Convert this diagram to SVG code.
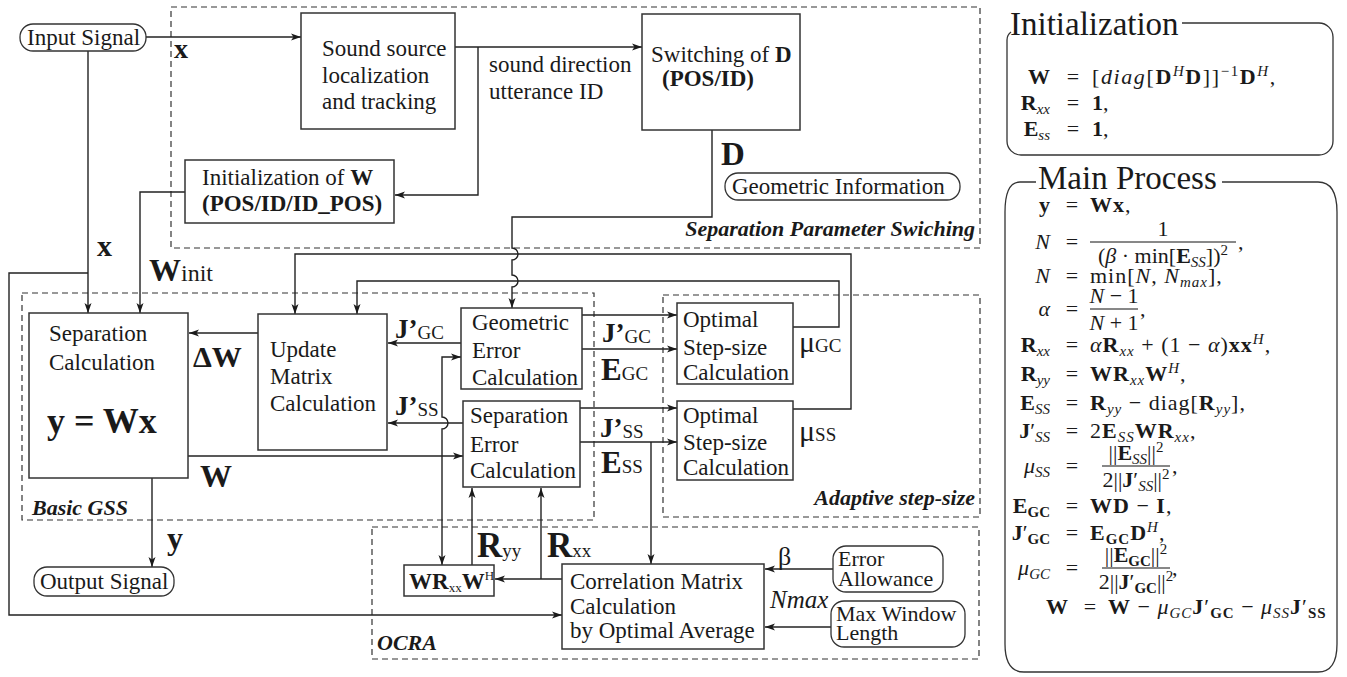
<svg xmlns="http://www.w3.org/2000/svg" width="1347" height="677" viewBox="0 0 1347 677">
<defs>
<style>
text { font-family: "Liberation Serif", "Times New Roman", serif; fill: #1a1a1a; }
.t { font-size: 23px; }
.t2 { font-size: 22px; }
.bx { fill: #fff; stroke: #333; stroke-width: 1.5; }
.pill { fill: #fff; stroke: #333; stroke-width: 1.3; }
.ds { fill: none; stroke: #333; stroke-width: 1.2; stroke-dasharray: 6 4; }
.ln { fill: none; stroke: #222; stroke-width: 1.4; }
.ar { marker-end: url(#ah); }
.lab { font-weight: bold; font-style: italic; font-size: 22px; }
.b { font-weight: bold; }
.i { font-style: italic; }
.eq { font-size: 22px; }
.rs { letter-spacing: 1px; }
.s { font-size: 15px; }
.sub { font-size: 19px; font-weight: normal; }
.panel { fill: none; stroke: #333; stroke-width: 1.3; }
.ttl { font-size: 33px; }
.bar { stroke: #111; stroke-width: 1; }
</style>
<marker id="ah" markerUnits="userSpaceOnUse" markerWidth="11" markerHeight="8" refX="10" refY="4" orient="auto"><path d="M0,0.5 L10,4 L0,7.5 L2.5,4 Z" fill="#1a1a1a"/></marker>
</defs>
<rect width="1347" height="677" fill="#fff"/>

<g id="regions">
<rect class="ds" x="171" y="7" width="809" height="241"/>
<text class="lab" x="975" y="236" text-anchor="end">Separation Parameter Swiching</text>
<rect class="ds" x="22" y="293" width="572" height="227"/>
<text class="lab" x="32" y="515">Basic GSS</text>
<rect class="ds" x="663" y="295" width="317" height="222"/>
<text class="lab" x="975" y="505" text-anchor="end">Adaptive step-size</text>
<rect class="ds" x="372" y="527" width="607" height="132"/>
<text class="lab" x="377" y="650">OCRA</text>
</g>

<g id="connectors" class="ln">
<path class="ar" d="M146,37 H301"/>
<path class="ar" d="M455,47 H642"/>
<path class="ar" d="M478,47 V195 H395"/>
<path class="ar" d="M185,192 H140 V313"/>
<path class="ar" d="M88,51 V313"/>
<path class="ar" d="M88,273 H9 V615 H562"/>
<path class="ar" d="M712,130 V217 H512 V248 a6,6 0 0 1 0,12 V275 a6,6 0 0 1 0,12 V308"/>
<path class="ar" d="M793,409 H851 V254 H295 V314"/>
<path class="ar" d="M793,327 H839 V281 H357 V314"/>
<path class="ar" d="M258,333 H189"/>
<path class="ar" d="M461,343 H388"/>
<path class="ar" d="M463,423 H388"/>
<path class="ar" d="M188,456 H463"/>
<path class="ar" d="M442,456 V429 a6,6 0 0 0 0,-12 V357 H461"/>
<path class="ar" d="M442,456 V565"/>
<path class="ar" d="M582,315 H677"/>
<path class="ar" d="M582,349 H677"/>
<path class="ar" d="M580,408 H677"/>
<path class="ar" d="M580,442 H677"/>
<path class="ar" d="M651,442 V564"/>
<path class="ar" d="M562,579 H495"/>
<path class="ar" d="M541,579 V488"/>
<path class="ar" d="M472,565 V488"/>
<path class="ar" d="M833,569 H765"/>
<path class="ar" d="M831,627 H765"/>
<path class="ar" d="M152,478 V567"/>
</g>

<g id="input-signal">
<rect class="pill" x="20" y="24" width="126" height="27" rx="13"/>
<text class="t" x="27" y="45">Input Signal</text>
</g>
<g id="sound-source">
<rect class="bx" x="301" y="13" width="154" height="116"/>
<text class="t" x="322" y="56">Sound source</text>
<text class="t" x="322" y="83">localization</text>
<text class="t" x="322" y="109">and tracking</text>
</g>
<g id="switching-d">
<rect class="bx" x="642" y="14" width="158" height="116"/>
<text class="t" x="651" y="62">Switching of <tspan class="b">D</tspan></text>
<text class="t b" x="662" y="86">(POS/ID)</text>
</g>
<g id="init-w">
<rect class="bx" x="185" y="160" width="209" height="63"/>
<text class="t" x="202" y="185">Initialization of <tspan class="b">W</tspan></text>
<text class="t b" x="202" y="211">(POS/ID/ID_POS)</text>
</g>
<g id="geo-info">
<rect class="pill" x="725" y="173" width="235" height="27" rx="13"/>
<text class="t" x="732" y="194">Geometric Information</text>
</g>
<g id="sep-calc">
<rect class="bx" x="29" y="313" width="159" height="165"/>
<text class="t" x="49" y="341">Separation</text>
<text class="t" x="49" y="370">Calculation</text>
<text class="b" x="47" y="433" font-size="36">y = Wx</text>
</g>
<g id="update-matrix">
<rect class="bx" x="258" y="314" width="129" height="136"/>
<text class="t" x="270" y="357">Update</text>
<text class="t" x="270" y="384">Matrix</text>
<text class="t" x="270" y="411">Calculation</text>
</g>
<g id="geo-error">
<rect class="bx" x="461" y="308" width="121" height="81"/>
<text class="t" x="472" y="330">Geometric</text>
<text class="t" x="472" y="358">Error</text>
<text class="t" x="472" y="385">Calculation</text>
</g>
<g id="sep-error">
<rect class="bx" x="463" y="401" width="117" height="86"/>
<text class="t" x="470" y="423">Separation</text>
<text class="t" x="470" y="452">Error</text>
<text class="t" x="470" y="478">Calculation</text>
</g>
<g id="opt-gc">
<rect class="bx" x="677" y="303" width="116" height="81"/>
<text class="t" x="683" y="327">Optimal</text>
<text class="t" x="683" y="355">Step-size</text>
<text class="t" x="683" y="380">Calculation</text>
</g>
<g id="opt-ss">
<rect class="bx" x="677" y="401" width="116" height="79"/>
<text class="t" x="683" y="423">Optimal</text>
<text class="t" x="683" y="450">Step-size</text>
<text class="t" x="683" y="475">Calculation</text>
</g>
<g id="wrw">
<rect class="bx" x="404" y="565" width="90" height="31"/>
<text x="409" y="589" font-size="23"><tspan class="b">WR</tspan><tspan font-size="13" dy="3">xx</tspan><tspan class="b" dy="-3">W</tspan><tspan font-size="13" dy="-9">H</tspan></text>
</g>
<g id="corr">
<rect class="bx" x="562" y="564" width="202" height="85"/>
<text class="t" x="570" y="589">Correlation Matrix</text>
<text class="t" x="570" y="614">Calculation</text>
<text class="t" x="570" y="638">by Optimal Average</text>
</g>
<g id="err-allow">
<rect class="pill" x="833" y="546" width="110" height="46" rx="13"/>
<text class="t2" x="838" y="566">Error</text>
<text class="t2" x="838" y="586">Allowance</text>
</g>
<g id="max-window">
<rect class="pill" x="831" y="601" width="134" height="46" rx="13"/>
<text class="t2" x="836" y="621">Max Window</text>
<text class="t2" x="836" y="640">Length</text>
</g>
<g id="output-signal">
<rect class="pill" x="34" y="567" width="140" height="29" rx="13"/>
<text class="t" x="40" y="589">Output Signal</text>
</g>

<g id="labels">
<text class="b" x="174" y="58" font-size="28">x</text>
<text class="t" x="489" y="72">sound direction</text>
<text class="t" x="489" y="99">utterance ID</text>
<text class="b" x="721" y="165" font-size="33">D</text>
<text class="b" x="97" y="256" font-size="30">x</text>
<text x="149" y="281"><tspan class="b" font-size="32">W</tspan><tspan font-size="24">init</tspan></text>
<text class="b" x="193" y="367" font-size="30">ΔW</text>
<text class="b" x="200" y="487" font-size="32">W</text>
<text class="b" x="167" y="549" font-size="32">y</text>
<text x="395" y="338"><tspan class="b" font-size="27">J’</tspan><tspan class="sub" dy="1">GC</tspan></text>
<text x="395" y="415"><tspan class="b" font-size="27">J’</tspan><tspan class="sub" dy="1">SS</tspan></text>
<text x="602" y="342"><tspan class="b" font-size="27">J’</tspan><tspan class="sub" dy="1">GC</tspan></text>
<text x="601" y="380"><tspan class="b" font-size="31">E</tspan><tspan class="sub">GC</tspan></text>
<text x="600" y="437"><tspan class="b" font-size="27">J’</tspan><tspan class="sub" dy="1">SS</tspan></text>
<text x="601" y="473"><tspan class="b" font-size="31">E</tspan><tspan class="sub">SS</tspan></text>
<text x="799" y="352"><tspan font-size="30">μ</tspan><tspan class="sub">GC</tspan></text>
<text x="799" y="441"><tspan font-size="30">μ</tspan><tspan class="sub">SS</tspan></text>
<text x="477" y="557"><tspan class="b" font-size="35">R</tspan><tspan class="sub">yy</tspan></text>
<text x="547" y="557"><tspan class="b" font-size="35">R</tspan><tspan class="sub">xx</tspan></text>
<text x="778" y="565" font-size="26">β</text>
<text class="i" x="770" y="608" font-size="25">Nmax</text>
</g>

<g id="init-panel">
<path class="panel" d="M1182,23 H1319 a14,14 0 0 1 14,14 V141 a14,14 0 0 1 -14,14 H1021 a14,14 0 0 1 -14,-14 V40 a10,10 0 0 1 4,-8"/>
<text class="ttl" x="1010" y="35" font-size="32">Initialization</text>
<text class="eq b" x="1050" y="84" text-anchor="end">W</text>
<text class="eq" x="1073" y="84" text-anchor="middle">=</text>
<text class="eq" x="1092" y="84" letter-spacing="1.6">[<tspan class="i">diag</tspan>[<tspan class="b">D</tspan><tspan class="s i" dy="-8">H</tspan><tspan class="b" dy="8">D</tspan>]]<tspan class="s" dy="-8">−1</tspan><tspan class="b" dy="8">D</tspan><tspan class="s i" dy="-8">H</tspan><tspan dy="8">,</tspan></text>
<text class="eq" x="1050" y="110" text-anchor="end"><tspan class="b">R</tspan><tspan class="s i" dy="4">xx</tspan></text>
<text class="eq" x="1073" y="110" text-anchor="middle">=</text>
<text class="eq" x="1092" y="110"><tspan class="b">1</tspan>,</text>
<text class="eq" x="1050" y="136" text-anchor="end"><tspan class="b">E</tspan><tspan class="s i" dy="4">ss</tspan></text>
<text class="eq" x="1073" y="136" text-anchor="middle">=</text>
<text class="eq" x="1092" y="136"><tspan class="b">1</tspan>,</text>
</g>

<g id="main-panel">
<path class="panel" d="M1036,182 H1020 Q1005,182 1005,212 V644 Q1005,672 1024,672 H1318 Q1337,672 1337,644 V212 Q1337,182 1318,182 H1222"/>
<text class="ttl" x="1038" y="189">Main Process</text>

<text class="eq b" x="1050" y="212" text-anchor="end">y</text>
<text class="eq" x="1072" y="212" text-anchor="middle">=</text>
<text class="eq rs" x="1090" y="212"><tspan class="b">Wx</tspan>,</text>

<text class="eq i" x="1050" y="249" text-anchor="end">N</text>
<text class="eq" x="1072" y="249" text-anchor="middle">=</text>
<text class="eq" x="1163" y="236" text-anchor="middle">1</text>
<line class="bar" x1="1090" y1="242" x2="1236" y2="242"/>
<text class="eq" x="1163" y="263" text-anchor="middle">(<tspan class="i">β</tspan> · min[<tspan class="b">E</tspan><tspan class="s i" dy="4">SS</tspan><tspan dy="-4">])</tspan><tspan class="s" dy="-8">2</tspan></text>
<text class="eq" x="1238" y="249">,</text>

<text class="eq i" x="1050" y="283" text-anchor="end">N</text>
<text class="eq" x="1072" y="283" text-anchor="middle">=</text>
<text class="eq rs" x="1090" y="283">min[<tspan class="i">N</tspan>, <tspan class="i">N</tspan><tspan class="s i" dy="4">max</tspan><tspan dy="-4">],</tspan></text>

<text class="eq i" x="1050" y="316" text-anchor="end">α</text>
<text class="eq" x="1072" y="316" text-anchor="middle">=</text>
<text class="eq" x="1114" y="303" text-anchor="middle"><tspan class="i">N</tspan> − 1</text>
<line class="bar" x1="1090" y1="309" x2="1138" y2="309"/>
<text class="eq" x="1114" y="330" text-anchor="middle"><tspan class="i">N</tspan> + 1</text>
<text class="eq" x="1140" y="316">,</text>

<text class="eq" x="1050" y="352" text-anchor="end"><tspan class="b">R</tspan><tspan class="s i" dy="4">xx</tspan></text>
<text class="eq" x="1072" y="352" text-anchor="middle">=</text>
<text class="eq rs" x="1090" y="352"><tspan class="i">α</tspan><tspan class="b">R</tspan><tspan class="s i" dy="4">xx</tspan><tspan dy="-4"> + (1 − </tspan><tspan class="i">α</tspan>)<tspan class="b">xx</tspan><tspan class="s i" dy="-8">H</tspan><tspan dy="8">,</tspan></text>

<text class="eq" x="1050" y="381" text-anchor="end"><tspan class="b">R</tspan><tspan class="s i" dy="4">yy</tspan></text>
<text class="eq" x="1072" y="381" text-anchor="middle">=</text>
<text class="eq rs" x="1090" y="381"><tspan class="b">WR</tspan><tspan class="s i" dy="4">xx</tspan><tspan class="b" dy="-4">W</tspan><tspan class="s i" dy="-8">H</tspan><tspan dy="8">,</tspan></text>

<text class="eq" x="1050" y="410" text-anchor="end"><tspan class="b">E</tspan><tspan class="s i" dy="4">SS</tspan></text>
<text class="eq" x="1072" y="410" text-anchor="middle">=</text>
<text class="eq rs" x="1090" y="410"><tspan class="b">R</tspan><tspan class="s i" dy="4">yy</tspan><tspan dy="-4"> − diag[</tspan><tspan class="b">R</tspan><tspan class="s i" dy="4">yy</tspan><tspan dy="-4">],</tspan></text>

<text class="eq" x="1050" y="438" text-anchor="end"><tspan class="b">J</tspan>′<tspan class="s i" dy="4">SS</tspan></text>
<text class="eq" x="1072" y="438" text-anchor="middle">=</text>
<text class="eq rs" x="1090" y="438">2<tspan class="b">E</tspan><tspan class="s i" dy="4">SS</tspan><tspan class="b" dy="-4">WR</tspan><tspan class="s i" dy="4">xx</tspan><tspan dy="-4">,</tspan></text>

<text class="eq" x="1050" y="473" text-anchor="end"><tspan class="i">μ</tspan><tspan class="s i" dy="4">SS</tspan></text>
<text class="eq" x="1072" y="473" text-anchor="middle">=</text>
<text class="eq" x="1136" y="460" text-anchor="middle">||<tspan class="b">E</tspan><tspan class="s i" dy="4">SS</tspan><tspan dy="-4">||</tspan><tspan class="s" dy="-8">2</tspan></text>
<line class="bar" x1="1102" y1="466" x2="1170" y2="466"/>
<text class="eq" x="1136" y="487" text-anchor="middle">2||<tspan class="b">J</tspan>′<tspan class="s i" dy="4">SS</tspan><tspan dy="-4">||</tspan><tspan class="s" dy="-8">2</tspan></text>
<text class="eq" x="1172" y="473">,</text>

<text class="eq" x="1050" y="513" text-anchor="end"><tspan class="b">E</tspan><tspan class="s b" dy="4">GC</tspan></text>
<text class="eq" x="1072" y="513" text-anchor="middle">=</text>
<text class="eq rs" x="1090" y="513"><tspan class="b">WD</tspan> − <tspan class="b">I</tspan>,</text>

<text class="eq" x="1050" y="540" text-anchor="end"><tspan class="b">J</tspan>′<tspan class="s b" dy="4">GC</tspan></text>
<text class="eq" x="1072" y="540" text-anchor="middle">=</text>
<text class="eq rs" x="1090" y="540"><tspan class="b">E</tspan><tspan class="s b" dy="4">GC</tspan><tspan class="b" dy="-4">D</tspan><tspan class="s i" dy="-8">H</tspan><tspan dy="8">,</tspan></text>

<text class="eq" x="1050" y="575" text-anchor="end"><tspan class="i">μ</tspan><tspan class="s i" dy="4">GC</tspan></text>
<text class="eq" x="1072" y="575" text-anchor="middle">=</text>
<text class="eq" x="1136" y="562" text-anchor="middle">||<tspan class="b">E</tspan><tspan class="s b" dy="4">GC</tspan><tspan dy="-4">||</tspan><tspan class="s" dy="-8">2</tspan></text>
<line class="bar" x1="1102" y1="568" x2="1170" y2="568"/>
<text class="eq" x="1136" y="589" text-anchor="middle">2||<tspan class="b">J</tspan>′<tspan class="s b" dy="4">GC</tspan><tspan dy="-4">||</tspan><tspan class="s" dy="-8">2</tspan></text>
<text class="eq" x="1172" y="575">,</text>

<text class="eq b" x="1068" y="614" text-anchor="end">W</text>
<text class="eq" x="1090" y="614" text-anchor="middle">=</text>
<text class="eq rs" x="1108" y="614"><tspan class="b">W</tspan> − <tspan class="i">μ</tspan><tspan class="s i" dy="4">GC</tspan><tspan class="b" dy="-4">J</tspan>′<tspan class="s b" dy="4">GC</tspan><tspan dy="-4"> − </tspan><tspan class="i">μ</tspan><tspan class="s i" dy="4">SS</tspan><tspan class="b" dy="-4">J</tspan>′<tspan class="s b" dy="4">SS</tspan></text>
</g>
</svg>
